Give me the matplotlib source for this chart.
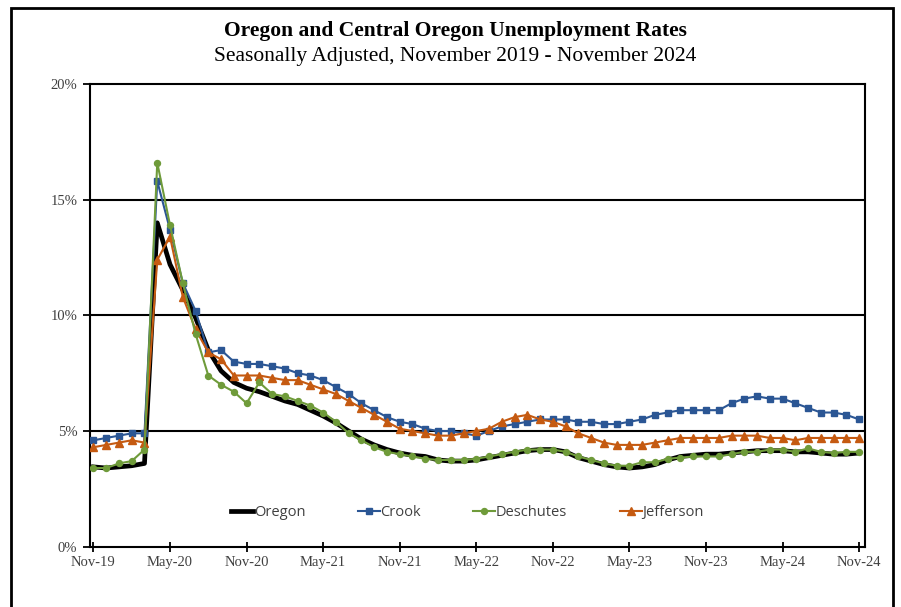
import matplotlib
matplotlib.use("Agg")
import matplotlib.pyplot as plt
from matplotlib.patches import Rectangle

# Monthly, Nov-2019 .. Nov-2024 (61 months)
months = ["Nov-19", "Dec-19", "Jan-20", "Feb-20", "Mar-20", "Apr-20", "May-20", "Jun-20",
          "Jul-20", "Aug-20", "Sep-20", "Oct-20", "Nov-20", "Dec-20", "Jan-21", "Feb-21",
          "Mar-21", "Apr-21", "May-21", "Jun-21", "Jul-21", "Aug-21", "Sep-21", "Oct-21",
          "Nov-21", "Dec-21", "Jan-22", "Feb-22", "Mar-22", "Apr-22", "May-22", "Jun-22",
          "Jul-22", "Aug-22", "Sep-22", "Oct-22", "Nov-22", "Dec-22", "Jan-23", "Feb-23",
          "Mar-23", "Apr-23", "May-23", "Jun-23", "Jul-23", "Aug-23", "Sep-23", "Oct-23",
          "Nov-23", "Dec-23", "Jan-24", "Feb-24", "Mar-24", "Apr-24", "May-24", "Jun-24",
          "Jul-24", "Aug-24", "Sep-24", "Oct-24", "Nov-24"]

oregon = [3.45, 3.4, 3.45, 3.5, 3.6, 14.0, 12.2, 11.1, 9.9, 8.5, 7.6, 7.1, 6.85, 6.7, 6.5, 6.3,
          6.15, 5.9, 5.65, 5.35, 5.0, 4.65, 4.4, 4.2, 4.05, 3.95, 3.9, 3.75, 3.7, 3.7, 3.75, 3.85,
          3.95, 4.05, 4.15, 4.2, 4.2, 4.1, 3.85, 3.7, 3.55, 3.45, 3.4, 3.45, 3.55, 3.75, 3.9, 3.95,
          4.0, 4.0, 4.05, 4.1, 4.15, 4.15, 4.15, 4.1, 4.1, 4.05, 4.0, 4.0, 4.05]

crook = [4.6, 4.7, 4.8, 4.9, 4.9, 15.8, 13.7, 11.4, 10.2, 8.4, 8.5, 8.0, 7.9, 7.9, 7.8, 7.7,
         7.5, 7.4, 7.2, 6.9, 6.6, 6.2, 5.9, 5.6, 5.4, 5.3, 5.1, 5.0, 5.0, 4.9, 4.8, 5.0,
         5.2, 5.3, 5.4, 5.5, 5.5, 5.5, 5.4, 5.4, 5.3, 5.3, 5.4, 5.5, 5.7, 5.8, 5.9, 5.9,
         5.9, 5.9, 6.2, 6.4, 6.5, 6.4, 6.4, 6.2, 6.0, 5.8, 5.8, 5.7, 5.5]

deschutes = [3.4, 3.4, 3.6, 3.7, 4.2, 16.6, 13.9, 11.4, 9.2, 7.4, 7.0, 6.7, 6.2, 7.1, 6.6, 6.5,
             6.3, 6.1, 5.8, 5.4, 4.9, 4.6, 4.3, 4.1, 4.0, 3.9, 3.8, 3.75, 3.75, 3.75, 3.8, 3.9,
             4.0, 4.1, 4.2, 4.2, 4.2, 4.1, 3.9, 3.75, 3.6, 3.5, 3.5, 3.65, 3.65, 3.8, 3.85, 3.9,
             3.9, 3.9, 4.0, 4.1, 4.1, 4.2, 4.2, 4.1, 4.25, 4.1, 4.05, 4.1, 4.1]

jefferson = [4.3, 4.4, 4.5, 4.6, 4.5, 12.4, 13.4, 10.8, 9.4, 8.4, 8.1, 7.4, 7.4, 7.4, 7.3, 7.2,
             7.2, 7.0, 6.8, 6.6, 6.3, 6.0, 5.7, 5.4, 5.1, 5.0, 4.9, 4.8, 4.8, 4.9, 5.0, 5.1,
             5.4, 5.6, 5.7, 5.5, 5.4, 5.2, 4.9, 4.7, 4.5, 4.4, 4.4, 4.4, 4.5, 4.6, 4.7, 4.7,
             4.7, 4.7, 4.8, 4.8, 4.8, 4.7, 4.7, 4.6, 4.7, 4.7, 4.7, 4.7, 4.7]

tick_labels = months[::6]
y_ticks = [0, 5, 10, 15, 20]

serif = ["Liberation Serif", "DejaVu Serif"]
sans = ["Open Sans", "DejaVu Sans"]
gray = "#404040"

fig = plt.figure(figsize=(9.01, 6.07), dpi=100)
fig.patch.set_facecolor("white")

# outer frame of the chart
fig.patches.append(Rectangle((11 / 901, -0.02), (893 - 11) / 901, 1 - 8 / 607 + 0.02,
                             transform=fig.transFigure, fill=False, edgecolor="black",
                             linewidth=2.0))

ax = fig.add_axes([90 / 901, 1 - 546.7 / 607, 775 / 901, (546.7 - 84) / 607])
x = list(range(len(months)))

ax.plot(x, oregon, color="black", lw=3.4, solid_joinstyle="round", label="Oregon", zorder=3)
ax.plot(x, crook, color="#2B5694", lw=1.5, marker="s", ms=4.5, label="Crook", zorder=4)
ax.plot(x, deschutes, color="#6F9B3A", lw=1.5, marker="o", ms=4.3, label="Deschutes", zorder=5)
ax.plot(x, jefferson, color="#C55A11", lw=1.5, marker="^", ms=5.5, label="Jefferson", zorder=4)

ax.set_xlim(-0.27, 60.46)
ax.set_ylim(0, 20)
ax.set_xticks(x[::6])
ax.set_xticklabels(tick_labels, family=serif, fontsize=10.5, color=gray)
ax.set_yticks(y_ticks)
ax.set_yticklabels([f"{v}%" for v in y_ticks], family=serif, fontsize=10.5, color=gray)
ax.tick_params(axis="x", direction="inout", length=7, width=1.3, pad=3)
ax.tick_params(axis="y", direction="out", length=5, width=1.3, pad=4)

for v in [5, 10, 15]:
    ax.axhline(v, color="black", lw=1.5, zorder=1)
for s in ax.spines.values():
    s.set_linewidth(1.5)

fig.text(0.505, 1 - 31 / 607, "Oregon and Central Oregon Unemployment Rates",
         ha="center", va="center", family=serif, fontsize=15.5, fontweight="bold")
fig.text(0.505, 1 - 57 / 607, "Seasonally Adjusted, November 2019 - November 2024",
         ha="center", va="center", family=serif, fontsize=15.5)

leg = ax.legend(loc="center", bbox_to_anchor=(0.487, 0.073), ncol=4, frameon=False,
                handlelength=1.5, handletextpad=0.05, columnspacing=3.6,
                prop={"family": sans, "size": 10.5})
for t in leg.get_texts():
    t.set_color(gray)

fig.savefig("out.png", dpi=100)
